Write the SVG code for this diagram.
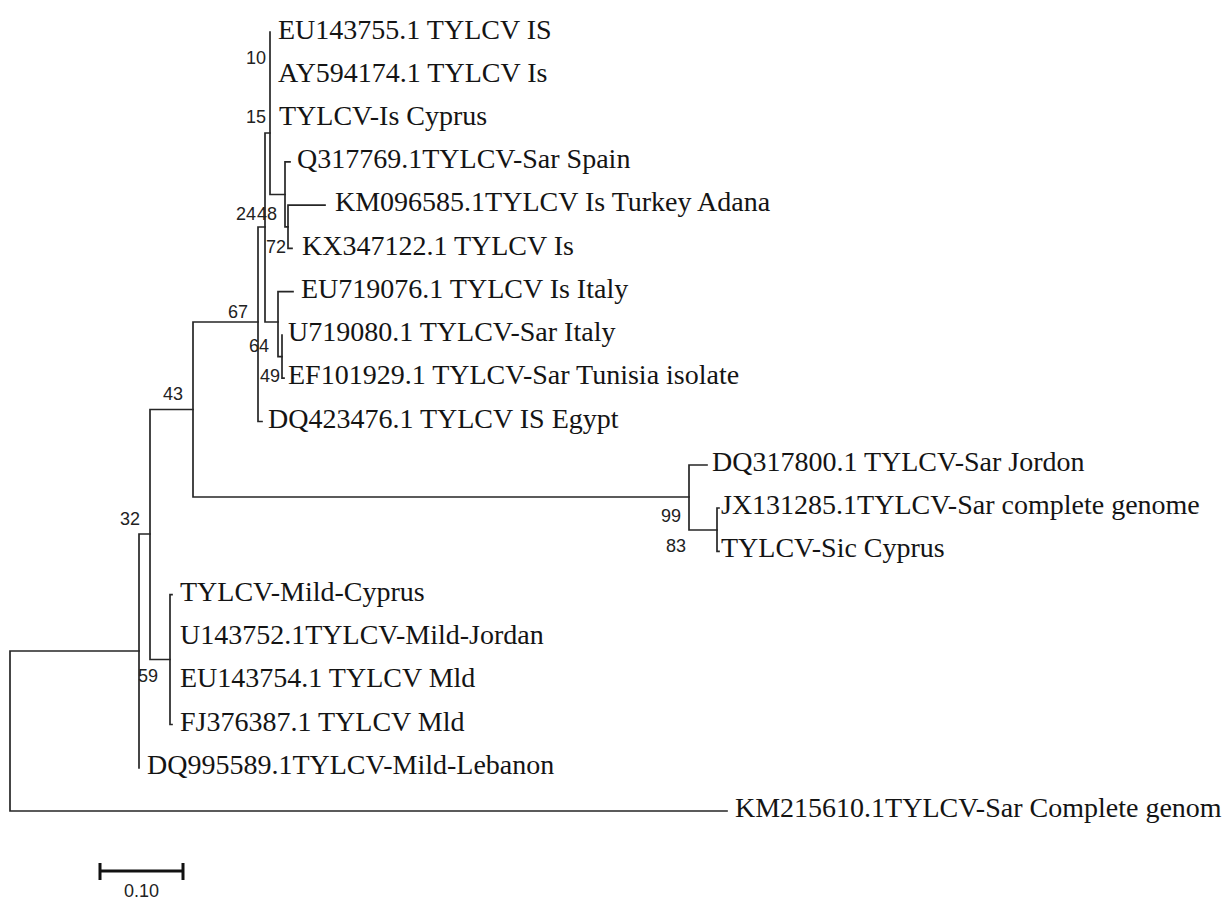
<svg xmlns="http://www.w3.org/2000/svg" width="1230" height="899" viewBox="0 0 1230 899">
<style>
.br{stroke:#262626;stroke-width:1.7;fill:none;stroke-linecap:square}
.lf{font-family:"Liberation Serif","Times New Roman",serif;font-size:28px;fill:#141414}
.bs{font-family:"Liberation Sans",Arial,sans-serif;font-size:18px;fill:#222}
.sb{stroke:#111;stroke-width:3;fill:none}
</style>
<rect width="1230" height="899" fill="#ffffff"/>
<g id="connectors">
<path class="br" d="M10,651 V811 M10,651 H139 M10,811 H727"/>
<path class="br" d="M139,534 V768 M139,534 H150"/>
<path class="br" d="M150,409.5 V659.5 M150,409.5 H193 M150,659.5 H170"/>
<path class="br" d="M193,322 V497 M193,497 H689 M193,322 H258"/>
<path class="br" d="M689,465 V530 M689,465 H707 M689,530 H717"/>
<path class="br" d="M717,508 V551.4 M717,508 H719 M717,551.4 H719"/>
<path class="br" d="M258,227 V421.5 M258,421.5 H262 M258,227 H265"/>
<path class="br" d="M265,133 V322 M265,133 H270 M265,322 H278"/>
<path class="br" d="M270,32 V194.5 M270,194.5 H285"/>
<path class="br" d="M285,161.8 V226.8 M285,161.8 H290 M285,226.8 H288"/>
<path class="br" d="M288,205.1 V248.4 M288,205.1 H325 M288,248.4 H292"/>
<path class="br" d="M278,291.7 V356.6 M278,291.7 H293 M278,356.6 H282"/>
<path class="br" d="M282,335 V378.2 M282,378.2 H284"/>
<path class="br" d="M170,594.6 V724.5 M170,594.6 H172 M170,724.5 H172"/>
</g>
<g id="leaf-EU143755"><text class="lf" x="278" y="39">EU143755.1 TYLCV IS</text></g>
<g id="leaf-AY594174"><text class="lf" x="278" y="82">AY594174.1 TYLCV Is</text></g>
<g id="leaf-IsCyprus"><text class="lf" x="279" y="125">TYLCV-Is Cyprus</text></g>
<g id="leaf-Q317769"><text class="lf" x="297" y="168">Q317769.1TYLCV-Sar Spain</text></g>
<g id="leaf-KM096585"><text class="lf" x="335" y="211">KM096585.1TYLCV Is Turkey Adana</text></g>
<g id="leaf-KX347122"><text class="lf" x="302" y="255">KX347122.1 TYLCV Is</text></g>
<g id="leaf-EU719076"><text class="lf" x="301" y="298">EU719076.1 TYLCV Is Italy</text></g>
<g id="leaf-U719080"><text class="lf" x="288" y="341">U719080.1 TYLCV-Sar Italy</text></g>
<g id="leaf-EF101929"><text class="lf" x="288" y="384">EF101929.1 TYLCV-Sar Tunisia isolate</text></g>
<g id="leaf-DQ423476"><text class="lf" x="268" y="428">DQ423476.1 TYLCV IS Egypt</text></g>
<g id="leaf-DQ317800"><text class="lf" x="712" y="471">DQ317800.1 TYLCV-Sar Jordon</text></g>
<g id="leaf-JX131285"><text class="lf" x="721" y="514">JX131285.1TYLCV-Sar complete genome</text></g>
<g id="leaf-SicCyprus"><text class="lf" x="721" y="557">TYLCV-Sic Cyprus</text></g>
<g id="leaf-MildCyprus"><text class="lf" x="180" y="601">TYLCV-Mild-Cyprus</text></g>
<g id="leaf-U143752"><text class="lf" x="180" y="644">U143752.1TYLCV-Mild-Jordan</text></g>
<g id="leaf-EU143754"><text class="lf" x="180" y="687">EU143754.1 TYLCV Mld</text></g>
<g id="leaf-FJ376387"><text class="lf" x="180" y="731">FJ376387.1 TYLCV Mld</text></g>
<g id="leaf-DQ995589"><text class="lf" x="147" y="774">DQ995589.1TYLCV-Mild-Lebanon</text></g>
<g id="leaf-KM215610"><text class="lf" x="735" y="817">KM215610.1TYLCV-Sar Complete genom</text></g>
<g id="bootstrap-labels">
<text class="bs" x="246" y="64">10</text>
<text class="bs" x="246" y="123">15</text>
<text class="bs" x="236" y="220">24</text>
<text class="bs" x="257" y="220">48</text>
<text class="bs" x="266" y="253">72</text>
<text class="bs" x="228" y="318">67</text>
<text class="bs" x="249" y="352">64</text>
<text class="bs" x="260" y="382">49</text>
<text class="bs" x="163" y="400">43</text>
<text class="bs" x="120" y="525">32</text>
<text class="bs" x="138" y="682">59</text>
<text class="bs" x="661" y="522">99</text>
<text class="bs" x="666" y="552">83</text>
</g>
<g id="scale-bar">
<path class="sb" d="M100,871 H183 M100,863 V880 M183,863 V880"/>
<text class="bs" x="141.5" y="897" text-anchor="middle">0.10</text>
</g>
</svg>
